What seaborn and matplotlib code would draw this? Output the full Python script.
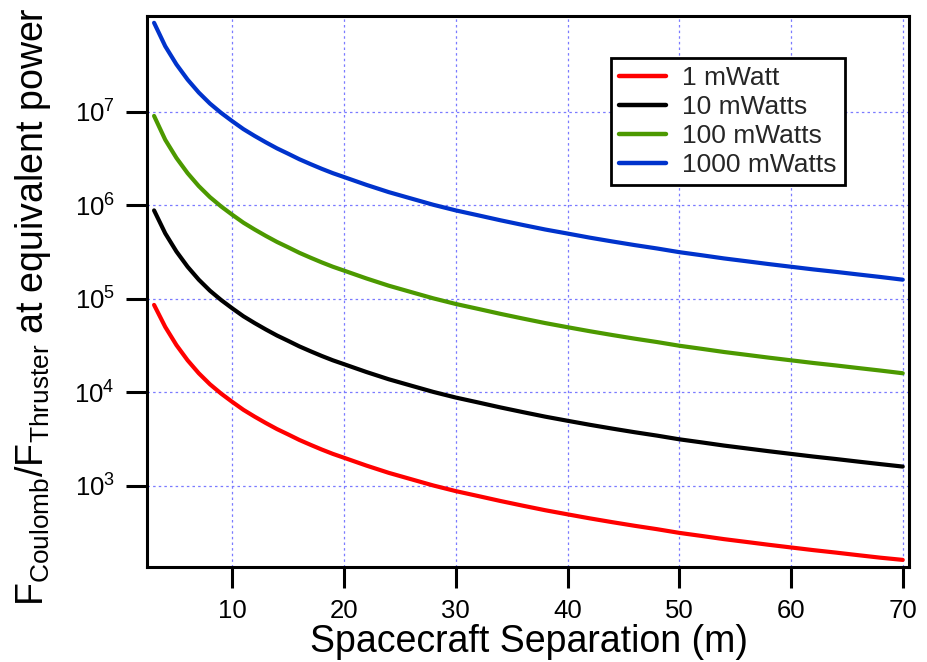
import matplotlib
matplotlib.use("Agg")
import matplotlib.pyplot as plt
import seaborn as sns
import pandas as pd
from matplotlib.ticker import NullLocator

# ---- data ----
separation = [3, 4, 5, 6, 7, 8, 9, 10, 11, 12, 13, 14, 15, 16, 17, 18, 19, 20,
              22, 24, 26, 28, 30, 32, 34, 36, 38, 40, 42, 44, 46, 48, 50,
              52, 54, 56, 58, 60, 62, 64, 66, 68, 70]
p1000 = [8.9e7, 5.0e7, 3.2e7, 2.2e7, 1.6e7, 1.22e7, 9.7e6, 7.9e6, 6.5e6, 5.5e6, 4.7e6,
         4.05e6, 3.55e6, 3.1e6, 2.75e6, 2.45e6, 2.2e6, 2.0e6,
         1.65e6, 1.38e6, 1.18e6, 1.01e6, 8.8e5, 7.8e5, 6.9e5, 6.15e5, 5.5e5, 4.98e5,
         4.5e5, 4.1e5, 3.75e5, 3.45e5, 3.15e5,
         2.92e5, 2.7e5, 2.52e5, 2.35e5, 2.2e5, 2.06e5, 1.94e5, 1.82e5, 1.71e5, 1.6e5]
p100 = [9.0e6, 5.0e6, 3.2e6, 2.2e6, 1.6e6, 1.22e6, 9.7e5, 7.9e5, 6.5e5, 5.5e5, 4.7e5,
        4.05e5, 3.55e5, 3.1e5, 2.75e5, 2.45e5, 2.2e5, 2.0e5,
        1.65e5, 1.38e5, 1.18e5, 1.01e5, 8.8e4, 7.8e4, 6.9e4, 6.15e4, 5.5e4, 4.97e4,
        4.5e4, 4.1e4, 3.75e4, 3.45e4, 3.15e4,
        2.92e4, 2.7e4, 2.52e4, 2.35e4, 2.2e4, 2.06e4, 1.94e4, 1.82e4, 1.71e4, 1.6e4]
p10 = [8.8e5, 5.0e5, 3.2e5, 2.2e5, 1.6e5, 1.22e5, 9.7e4, 7.9e4, 6.5e4, 5.5e4, 4.7e4,
       4.05e4, 3.55e4, 3.1e4, 2.75e4, 2.45e4, 2.2e4, 2.0e4,
       1.65e4, 1.38e4, 1.18e4, 1.01e4, 8.8e3, 7.8e3, 6.9e3, 6.15e3, 5.5e3, 4.97e3,
       4.5e3, 4.1e3, 3.75e3, 3.45e3, 3.15e3,
       2.92e3, 2.7e3, 2.52e3, 2.35e3, 2.2e3, 2.06e3, 1.94e3, 1.82e3, 1.71e3, 1.61e3]
p1 = [8.6e4, 5.0e4, 3.2e4, 2.2e4, 1.6e4, 1.22e4, 9.7e3, 7.9e3, 6.5e3, 5.5e3, 4.7e3,
      4.05e3, 3.55e3, 3.1e3, 2.75e3, 2.45e3, 2.2e3, 2.0e3,
      1.65e3, 1.38e3, 1.18e3, 1.01e3, 8.8e2, 7.8e2, 6.9e2, 6.15e2, 5.5e2, 4.97e2,
      4.5e2, 4.1e2, 3.75e2, 3.45e2, 3.15e2,
      2.92e2, 2.7e2, 2.52e2, 2.35e2, 2.2e2, 2.06e2, 1.94e2, 1.82e2, 1.71e2, 1.62e2]
labels = ["1 mWatt", "10 mWatts", "100 mWatts", "1000 mWatts"]
colors = ["#ff0000", "#000000", "#4c9900", "#0033cc"]
yticks = [1e3, 1e4, 1e5, 1e6, 1e7]
xticks = [10, 20, 30, 40, 50, 60, 70]

rows = []
for lab, vals in zip(labels, [p1, p10, p100, p1000]):
    for d, v in zip(separation, vals):
        rows.append({"sep": d, "ratio": v, "power": lab})
df = pd.DataFrame(rows)

sns.set_theme(style="white")
plt.rcParams["font.family"] = ["Liberation Sans", "DejaVu Sans"]
plt.rcParams["mathtext.fontset"] = "custom"
plt.rcParams["mathtext.rm"] = "Liberation Sans"
plt.rcParams["mathtext.it"] = "Liberation Sans:italic"
plt.rcParams["mathtext.bf"] = "Liberation Sans:bold"

fig = plt.figure(figsize=(9.28, 6.62), dpi=100)
ax = fig.add_axes([146.7 / 928, 1 - 567 / 662, (909 - 146.7) / 928, (567 - 15.7) / 662])

sns.lineplot(data=df, x="sep", y="ratio", hue="power", hue_order=labels,
             palette=colors, linewidth=3.0, ax=ax, legend=True)

ax.set_yscale("log")
ax.set_xlim(2.34, 70.56)
ax.set_ylim(136, 1.06e8)
ax.set_xticks(xticks)
ax.set_xticklabels([str(t) for t in xticks])
ax.set_yticks(yticks)
ax.yaxis.set_minor_locator(NullLocator())
ax.xaxis.set_minor_locator(NullLocator())

ax.grid(True, which="major", color="#7a7aff", linestyle=(0, (2.0, 2.5)), linewidth=0.9)
for s in ax.spines.values():
    s.set_color("black")
    s.set_linewidth(2.2)
    s.set_visible(True)
ax.tick_params(axis="both", which="major", direction="out", length=15, width=2.2,
               color="black", labelsize=18.5, pad=8, labelcolor="black",
               bottom=True, left=True, top=False, right=False)

ax.set_xlabel("Spacecraft Separation (m)", fontsize=27, labelpad=0, color="black")
ax.xaxis.set_label_coords(0.501, -0.104)
ax.set_ylabel(r"F$_{\mathregular{Coulomb}}$/F$_{\mathregular{Thruster}}$ at equivalent power",
              fontsize=27, color="black")
ax.yaxis.set_label_coords(-0.1225, 0.473)

leg = ax.legend(loc="upper left", bbox_to_anchor=(0.609, 0.923), borderaxespad=0,
                fontsize=19, frameon=True, fancybox=False, framealpha=1,
                edgecolor="black", handlelength=1.8, handletextpad=0.6,
                labelspacing=0.19, borderpad=0.3, title=None)
leg.get_frame().set_linewidth(2.0)
for h in leg.get_lines():
    h.set_linewidth(3.2)

fig.savefig("out.png", dpi=100)
